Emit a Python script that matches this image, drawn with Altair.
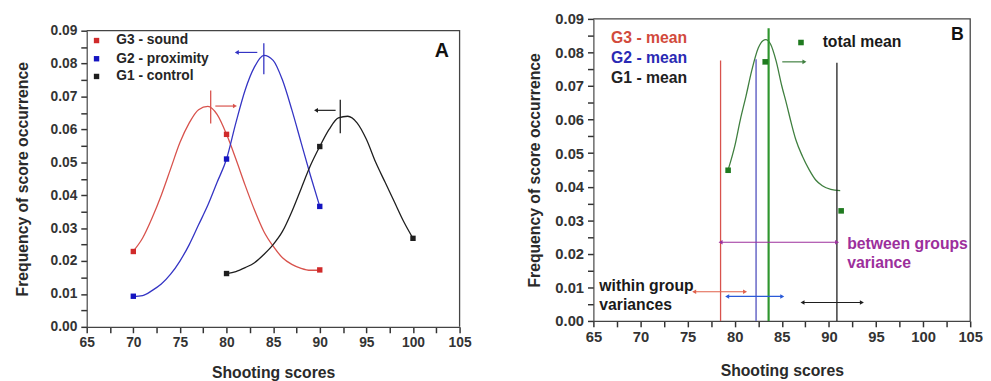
import altair as alt
import pandas as pd

# ---------------- Panel A data ----------------
g3_curve_x = [70, 71, 72, 73, 74, 75, 76, 77, 78, 79, 80, 81, 82, 83, 84, 85, 86, 87, 88, 89, 90]
g3_curve_y = [0.023, 0.027, 0.033, 0.040, 0.048, 0.056, 0.062, 0.066, 0.067, 0.0645, 0.0585,
              0.051, 0.043, 0.0355, 0.029, 0.0245, 0.021, 0.019, 0.0178, 0.0172, 0.0172]
g2_curve_x = [70, 71, 72, 73, 74, 75, 76, 77, 78, 79, 80, 81, 82, 83, 84, 85, 86, 87, 88, 89, 90]
g2_curve_y = [0.0092, 0.0095, 0.011, 0.013, 0.016, 0.020, 0.025, 0.031, 0.037, 0.044, 0.051,
              0.062, 0.072, 0.079, 0.0825, 0.081, 0.075, 0.066, 0.056, 0.046, 0.0366]
g1_curve_x = [80, 81, 82, 83, 84, 85, 86, 87, 88, 89, 90, 91, 92, 93, 94, 95, 96, 97, 98, 99, 100]
g1_curve_y = [0.0162, 0.0168, 0.018, 0.0195, 0.022, 0.025, 0.029, 0.035, 0.042, 0.049, 0.0548,
              0.060, 0.0635, 0.064, 0.062, 0.057, 0.050, 0.044, 0.038, 0.032, 0.0269]

g3_pts_x = [70, 80, 90]
g3_pts_y = [0.0229, 0.0585, 0.0173]
g2_pts_x = [70, 80, 90]
g2_pts_y = [0.0093, 0.051, 0.0366]
g1_pts_x = [80, 90, 100]
g1_pts_y = [0.0162, 0.0548, 0.0269]

# peak markers (vertical ticks) and shift arrows
peak_x = [78.3, 84.0, 92.2]
peak_y1 = [0.0618, 0.0768, 0.0588]
peak_y2 = [0.0718, 0.0862, 0.0690]
shift_from = [78.8, 83.3, 91.7]
shift_to = [80.9, 81.1, 89.6]
shift_y = [0.0671, 0.0834, 0.0658]

legend_a_labels = ["G3 - sound", "G2 - proximity", "G1 - control"]

# ---------------- Panel B data ----------------
tot_curve_x = [79.3, 80.0, 80.6, 81.2, 81.8, 82.5, 83.0, 83.3, 83.8, 84.4, 85.0, 85.5, 86.0,
               86.5, 87.2, 87.9, 88.6, 89.3, 90.2, 91.2]
tot_curve_y = [0.045, 0.052, 0.060, 0.067, 0.0745, 0.0813, 0.0835, 0.0838, 0.0825, 0.0774,
               0.070, 0.0647, 0.059, 0.0539, 0.049, 0.0451, 0.042, 0.0403, 0.0392, 0.0388]
tot_pts_x = [79.3, 83.24, 91.3]
tot_pts_y = [0.0449, 0.0772, 0.0328]

mean_names = ["G3", "G2", "total", "G1"]
mean_x = [78.5, 82.27, 83.6, 90.85]
mean_top = [0.0776, 0.0780, 0.0872, 0.0769]

# variance arrows: x1, x2, y
var_x1 = [78.5, 75.7, 79.2, 87.2]
var_x2 = [90.87, 81.1, 85.05, 93.5]
var_y = [0.02345, 0.0087, 0.0073, 0.0055]
tot_arrow = [85.05, 87.4, 0.0772]

legend_b_labels = ["G3 - mean", "G2 - mean", "G1 - mean"]

x_domain = [65, 105]
y_domain = [0, 0.09]
x_tick_values = [65 + 2.5 * i for i in range(17)]
y_tick_values = [round(i * 0.005, 3) for i in range(19)]

RED, RED_PT = "#d8524c", "#d02a2a"
BLUE, BLUE_PT = "#3434c4", "#1414c0"
BLACK = "#1e1e1e"
GREEN, GREEN_PT, GREEN_V = "#3f7f3f", "#1f7a1f", "#2f962f"
PURPLE = "#9c2f9c"
FONT = "Liberation Sans"

X_MAJOR = "datum.value % 5 === 0"
Y_MAJOR = "abs(datum.value*100 - round(datum.value*100)) < 0.000001"


def make_axes(panel):
    fs = 14 if panel == "A" else 15
    tp = 20 if panel == "A" else 13
    xtp = 15 if panel == "A" else 18
    xa = alt.Axis(
        title="Shooting scores", values=x_tick_values, format="d",
        labelExpr=X_MAJOR + " ? datum.label : ''", labelOverlap=False,
        ticks=True, tickSize=6, tickWidth=1.5, tickColor="#333",
        labelFontSize=fs, titleFontSize=16, labelPadding=3, titlePadding=xtp,
        labelFlush=False)
    ya = alt.Axis(
        title="Frequency of score occurrence", values=y_tick_values, format=".2f",
        labelExpr=Y_MAJOR + " ? datum.label : ''", labelOverlap=False,
        ticks=True, tickSize=6, tickWidth=1.5, tickColor="#333",
        labelFontSize=fs, titleFontSize=16, labelPadding=4, titlePadding=tp,
        labelFlush=False)
    return xa, ya


def XY(panel):
    xa, ya = make_axes(panel)
    return (alt.X("x:Q", scale=alt.Scale(domain=x_domain, nice=False, zero=False), axis=xa),
            alt.Y("y:Q", scale=alt.Scale(domain=y_domain, nice=False, zero=True), axis=ya))


col = alt.Color("c:N", scale=None)


def frame(xe, ye):
    # top and right border of the plot area, drawn through the scales from the domain ends
    d = pd.DataFrame({"x": [x_domain[0], x_domain[1], x_domain[1]],
                      "y": [y_domain[1], y_domain[1], y_domain[0]],
                      "o": [0, 1, 2]})
    return alt.Chart(d).mark_line(color="#444", strokeWidth=1.3).encode(
        x=xe, y=ye, order="o:Q")


# ---------- build panel A ----------
curves_a = pd.concat([
    pd.DataFrame({"x": g3_curve_x, "y": g3_curve_y, "s": "G3", "c": RED}),
    pd.DataFrame({"x": g2_curve_x, "y": g2_curve_y, "s": "G2", "c": BLUE}),
    pd.DataFrame({"x": g1_curve_x, "y": g1_curve_y, "s": "G1", "c": BLACK}),
])
pts_a = pd.concat([
    pd.DataFrame({"x": g3_pts_x, "y": g3_pts_y, "c": RED_PT}),
    pd.DataFrame({"x": g2_pts_x, "y": g2_pts_y, "c": BLUE_PT}),
    pd.DataFrame({"x": g1_pts_x, "y": g1_pts_y, "c": BLACK}),
])
peaks = pd.DataFrame({"x": peak_x, "y": peak_y1, "y2": peak_y2, "c": [RED, BLUE, BLACK]})
shifts = pd.DataFrame({"x": shift_from, "x2": shift_to, "y": shift_y, "c": [RED, BLUE, BLACK]})
heads_a = pd.DataFrame({"x": shift_to, "y": shift_y, "c": [RED, BLUE, BLACK],
                        "sh": ["triangle-right", "triangle-left", "triangle-left"]})
leg_a = pd.DataFrame({"lab": legend_a_labels, "c": [RED_PT, BLUE_PT, BLACK],
                      "py": [10, 28.5, 46.5]})

ax, ay = XY("A")
a_curves = alt.Chart(curves_a).mark_line(interpolate="monotone", strokeWidth=1.3).encode(
    x=ax, y=ay, detail="s:N", color=col)
a_pts = alt.Chart(pts_a).mark_square(size=30, opacity=1).encode(x=ax, y=ay, color=col)
a_peaks = alt.Chart(peaks).mark_rule(strokeWidth=1.3).encode(x=ax, y=ay, y2="y2:Q", color=col)
a_shift = alt.Chart(shifts).mark_rule(strokeWidth=1.2).encode(x=ax, x2="x2:Q", y=ay, color=col)
a_heads = alt.Chart(heads_a).mark_point(filled=True, size=22, opacity=1).encode(
    x=ax, y=ay, color=col, shape=alt.Shape("sh:N", scale=None))
a_leg_sq = alt.Chart(leg_a).mark_square(size=30, opacity=1).encode(
    x=alt.value(10), y=alt.Y("py:Q", scale=None), color=col)
a_leg_tx = alt.Chart(leg_a).mark_text(align="left", baseline="middle", font=FONT,
                                      fontWeight="bold", fontSize=14, color="#262626").encode(
    x=alt.value(30), y=alt.Y("py:Q", scale=None), text="lab:N")
a_label = alt.Chart(pd.DataFrame({"t": ["A"]})).mark_text(
    font=FONT, fontWeight="bold", fontSize=20, color="#111", baseline="middle").encode(
    x=alt.value(361), y=alt.value(21), text="t:N")

panel_a = alt.layer(a_curves, frame(ax, ay), a_pts, a_peaks, a_shift, a_heads, a_leg_sq,
                    a_leg_tx, a_label).properties(width=379, height=301)

# thin spacer above panel A so that its frame sits a little lower than panel B's
spacer = alt.Chart(pd.DataFrame({"t": [""]})).mark_text(opacity=0).encode(
    x=alt.value(0), y=alt.value(0), text="t:N").properties(width=379, height=1)
left = alt.vconcat(spacer, panel_a, spacing=0)

# ---------- build panel B ----------
curve_b = pd.DataFrame({"x": tot_curve_x, "y": tot_curve_y})
pts_b = pd.DataFrame({"x": tot_pts_x, "y": tot_pts_y})
means = pd.DataFrame({"x": mean_x, "y": [0.0] * 4, "y2": mean_top,
                      "c": [RED, "#7f7fd0", GREEN_V, BLACK], "w": [1.3, 1.8, 2.2, 1.3]})
arrows_b = pd.DataFrame({"x": var_x1 + [tot_arrow[0]], "x2": var_x2 + [tot_arrow[1]],
                         "y": var_y + [tot_arrow[2]],
                         "c": [PURPLE, "#e0604a", "#2a5ad8", BLACK, GREEN]})
heads_b = pd.DataFrame({
    "x": var_x1 + var_x2 + [tot_arrow[1]],
    "y": var_y + var_y + [tot_arrow[2]],
    "c": [PURPLE, "#e0604a", "#2a5ad8", BLACK] * 2 + [GREEN],
    "sh": ["triangle-left"] * 4 + ["triangle-right"] * 5,
})
leg_b = pd.DataFrame({"lab": legend_b_labels, "c": ["#d24a3c", "#2a2ab4", "#222222"],
                      "py": [20, 40, 60]})

bx, by = XY("B")
b_curve = alt.Chart(curve_b).mark_line(interpolate="monotone", strokeWidth=1.3, color=GREEN).encode(
    x=bx, y=by)
b_means = alt.Chart(means).mark_rule().encode(
    x=bx, y=by, y2="y2:Q", color=col, strokeWidth=alt.StrokeWidth("w:Q", scale=None))
b_pts = alt.Chart(pts_b).mark_square(size=32, opacity=1, color=GREEN_PT).encode(x=bx, y=by)
b_arrows = alt.Chart(arrows_b).mark_rule(strokeWidth=1.2).encode(
    x=bx, x2="x2:Q", y=by, color=col)
b_heads = alt.Chart(heads_b).mark_point(filled=True, size=22, opacity=1).encode(
    x=bx, y=by, color=col, shape=alt.Shape("sh:N", scale=None))
b_leg = alt.Chart(leg_b).mark_text(align="left", baseline="middle", font=FONT,
                                   fontWeight="bold", fontSize=16).encode(
    x=alt.value(18), y=alt.Y("py:Q", scale=None), text="lab:N", color=col)
b_tot_sq = alt.Chart(pd.DataFrame({"t": ["total mean"]})).mark_square(
    size=32, opacity=1, color=GREEN_PT).encode(x=alt.value(211), y=alt.value(24))
b_tot_tx = alt.Chart(pd.DataFrame({"t": ["total mean"]})).mark_text(
    align="left", baseline="middle", font=FONT, fontWeight="bold", fontSize=16, color="#1a1a1a").encode(
    x=alt.value(233), y=alt.value(24), text="t:N")
notes = pd.DataFrame({
    "t": ["within group", "variances", "between groups", "variance"],
    "px": [6, 6, 258, 258], "py": [272, 291, 229, 248],
    "c": ["#1a1a1a", "#1a1a1a", PURPLE, PURPLE]})
b_notes = alt.Chart(notes).mark_text(align="left", baseline="middle", font=FONT,
                                     fontWeight="bold", fontSize=16).encode(
    x=alt.X("px:Q", scale=None), y=alt.Y("py:Q", scale=None), text="t:N", color=col)
b_label = alt.Chart(pd.DataFrame({"t": ["B"]})).mark_text(
    font=FONT, fontWeight="bold", fontSize=18, color="#111", baseline="middle").encode(
    x=alt.value(370), y=alt.value(16), text="t:N")

panel_b = alt.layer(b_curve, frame(bx, by), b_means, b_pts, b_arrows, b_heads, b_leg,
                    b_tot_sq, b_tot_tx, b_notes, b_label).properties(width=383, height=307)

chart = alt.hconcat(left, panel_b, spacing=55).properties(
    padding={"left": 6, "top": 1, "right": 0, "bottom": 0}
).configure_view(stroke=None).configure_axis(
    grid=False, domainColor="#444", labelColor="#333", titleColor="#2a2a2a",
    labelFont=FONT, titleFont=FONT, labelFontWeight="bold", titleFontWeight="bold",
    domainWidth=1.2)

chart.save("out.html", embed_options={"renderer": "svg", "actions": False})
